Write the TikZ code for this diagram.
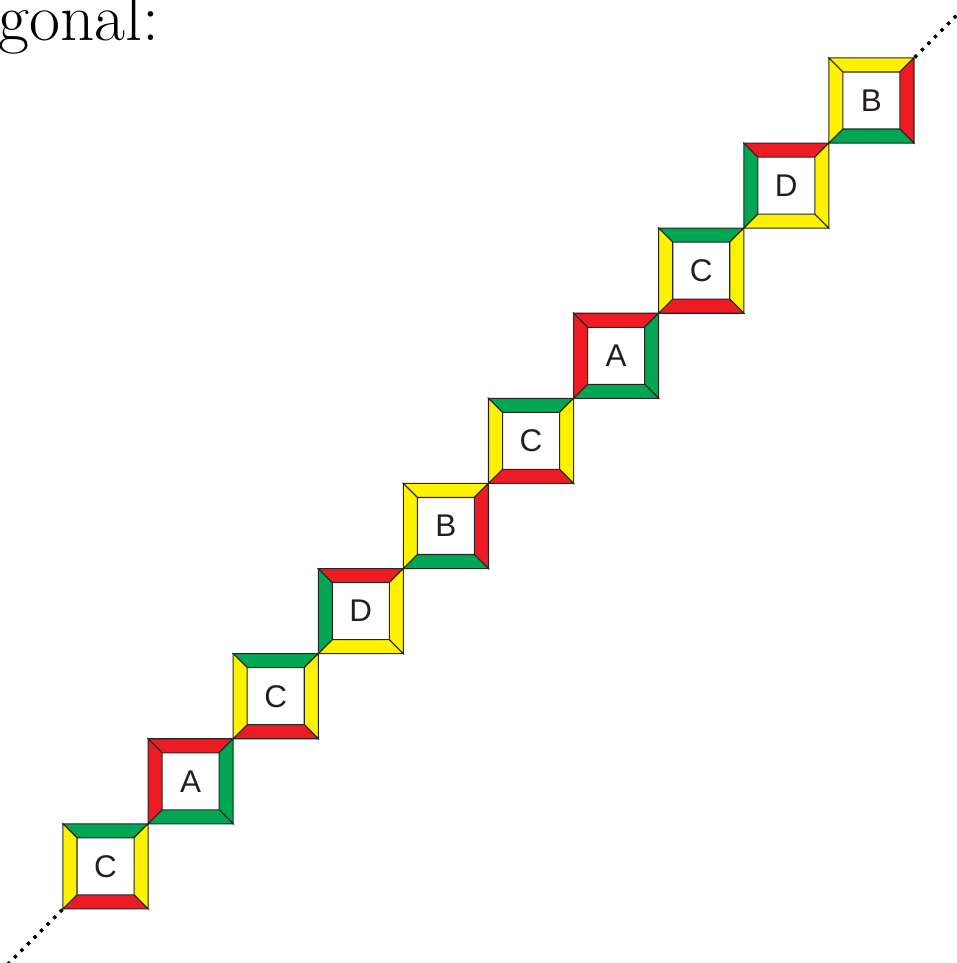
\documentclass[tikz,border=0pt]{standalone}
\usepackage{fontspec}
\newfontfamily\tilefont{Liberation Sans}
\usepackage{tikz}
\usetikzlibrary{positioning}
\usepackage{xcolor}
\definecolor{tred}{RGB}{237,28,36}
\definecolor{tgreen}{RGB}{0,166,81}
\definecolor{tyellow}{RGB}{255,242,0}
\definecolor{tink}{RGB}{35,31,32}

\begin{document}
\begin{tikzpicture}[
    seg/.style={draw=black!85, line width=0.35pt},
    tilebox/.style={minimum size=1cm, inner sep=0pt, text=tink,
                    font=\tilefont\fontsize{10.5}{12}\selectfont},
    dotline/.style={line width=1.1pt, dotted},
]
  \useasboundingbox (-0.740,-0.635) rectangle (10.494,10.681);
  \def\b{0.165}

  % ---- Heading (cut at the left edge) ----
  \node[font=\fontsize{22.5}{26}\selectfont, anchor=base west, inner sep=0pt] (title)
    at (-0.765,10.205) {gonal:};

  % ---- Tiles along the diagonal ----
  % i / letter / top / right / bottom / left
  \foreach \i/\lt/\ct/\cr/\cb/\cl in {
      0/C/tgreen/tyellow/tred/tyellow,
      1/A/tred/tgreen/tgreen/tred,
      2/C/tgreen/tyellow/tred/tyellow,
      3/D/tred/tyellow/tyellow/tgreen,
      4/B/tyellow/tred/tgreen/tyellow,
      5/C/tgreen/tyellow/tred/tyellow,
      6/A/tred/tgreen/tgreen/tred,
      7/C/tgreen/tyellow/tred/tyellow,
      8/D/tred/tyellow/tyellow/tgreen,
      9/B/tyellow/tred/tgreen/tyellow} {
    \begin{scope}[shift={(\i,\i)}]
      \filldraw[seg, fill=\ct] (0,1) -- (1,1) -- (1-\b,1-\b) -- (\b,1-\b) -- cycle;
      \filldraw[seg, fill=\cr] (1,1) -- (1,0) -- (1-\b,\b) -- (1-\b,1-\b) -- cycle;
      \filldraw[seg, fill=\cb] (1,0) -- (0,0) -- (\b,\b) -- (1-\b,\b) -- cycle;
      \filldraw[seg, fill=\cl] (0,0) -- (0,1) -- (\b,1-\b) -- (\b,\b) -- cycle;
      \node[tilebox] (t\i) at (0.5,0.5) {\lt};
    \end{scope}
  }

  % ---- Dotted continuation ----
  \coordinate (lo) at (-0.66,-0.66);
  \coordinate (hi) at (10.55,10.55);
  \draw[dotline] (t0.south west) -- (lo);
  \draw[dotline] (t9.north east) -- (hi);

\end{tikzpicture}
\end{document}
